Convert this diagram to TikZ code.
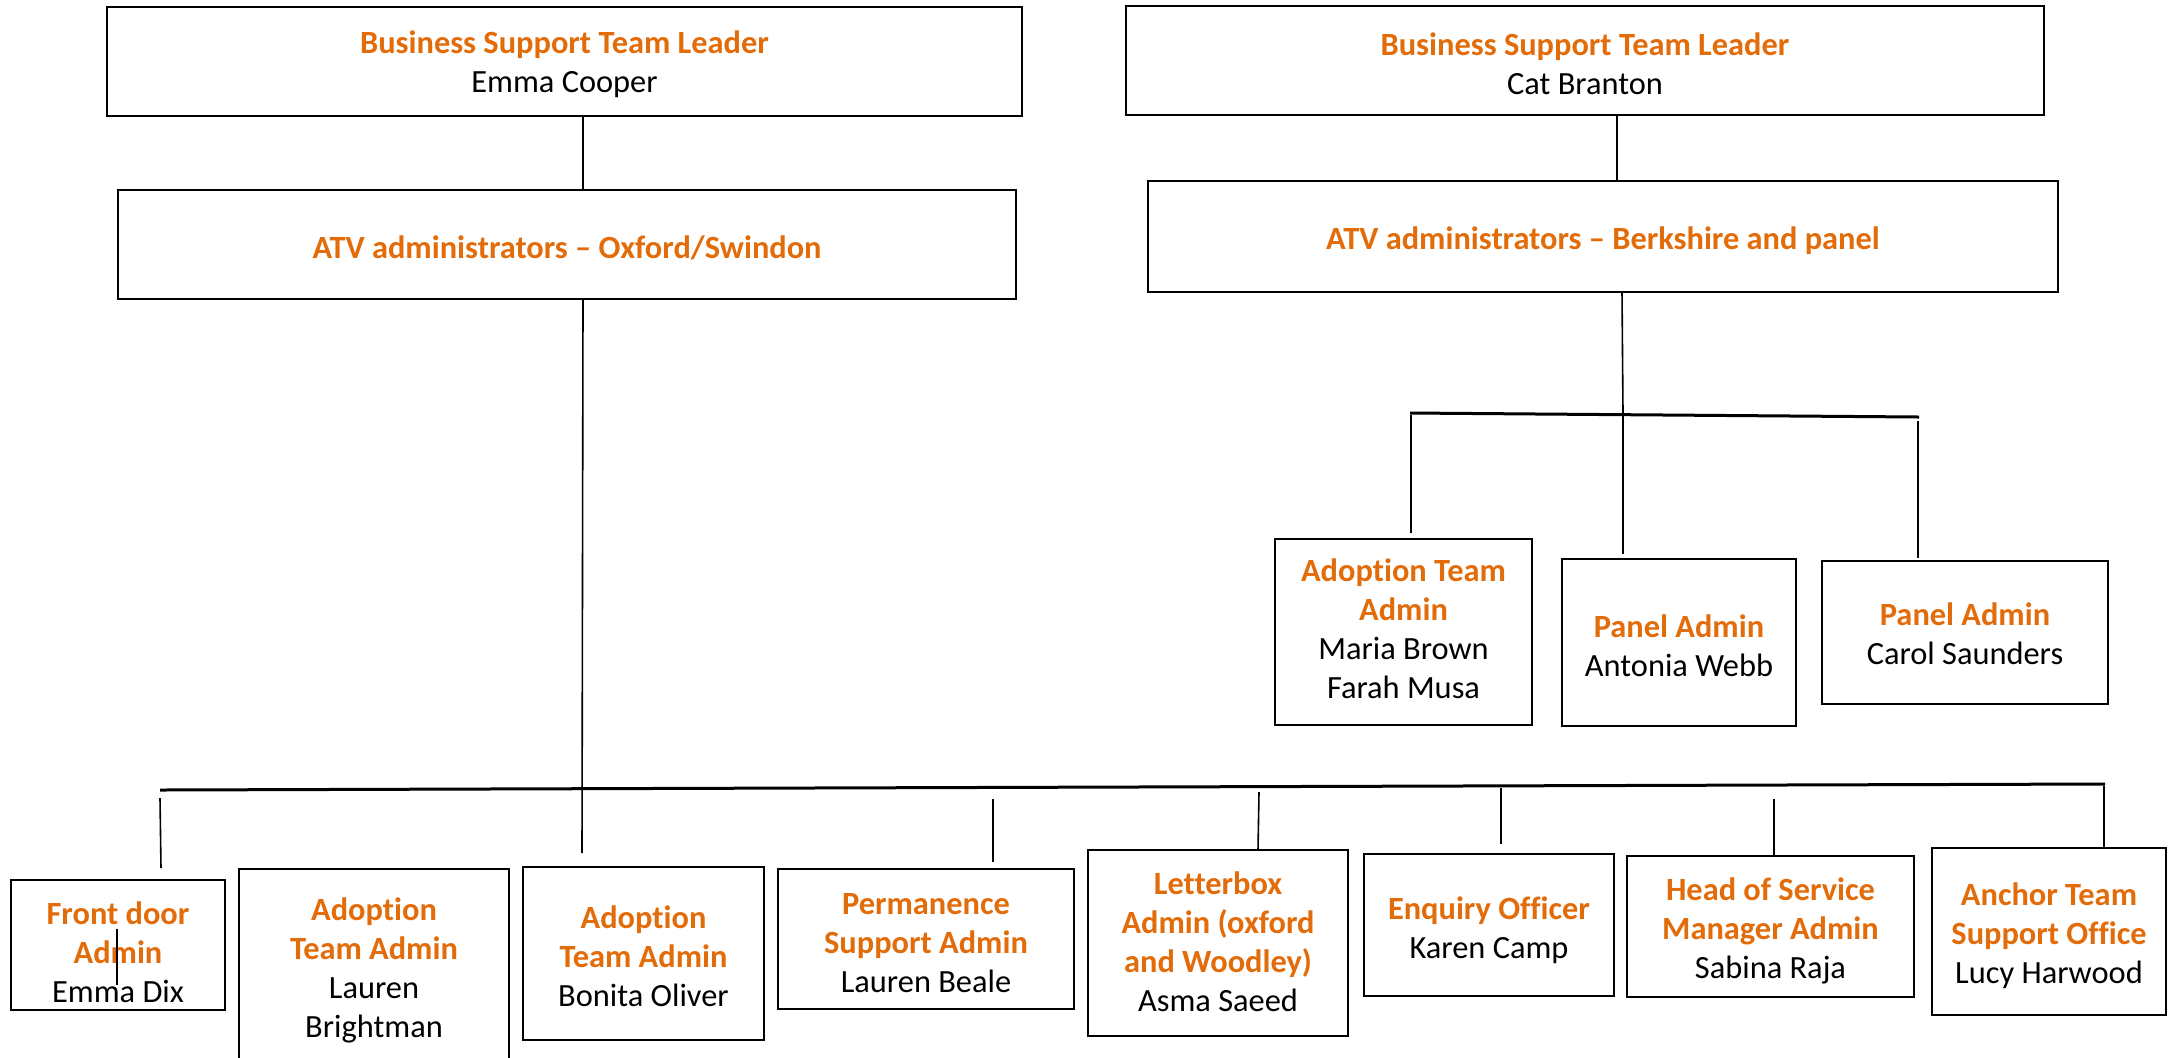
\documentclass[tikz,border=0pt]{standalone}
\usepackage{fontspec}
\setmainfont{Carlito}[Ligatures=NoCommon]
\definecolor{roleorange}{RGB}{227,108,10}
\tikzset{
  orgbox/.style={draw=black, line width=0.9pt, fill=white, inner sep=0pt},
  boxtext/.style={inner sep=0pt, align=center,
    font=\fontsize{16.2}{19.5}\selectfont},
  link/.style={line width=0.8pt},
  bus/.style={line width=1.5pt},
}
\newcommand\role[1]{{\color{roleorange}\bfseries #1}}
% \placebox{name}{left}{top}{right}{bottom}{text drop}{text}
\newcommand\placebox[7]{%
  \node[orgbox, minimum width={(#4-#2)*0.5pt}, minimum height={(#5-#3)*0.5pt}]
    (#1) at ({(#2+#4)/2},{(#3+#5)/2}) {};
  \node[boxtext] (#1-text) at ([yshift={-(#6)*0.5pt}]#1.center) {#7};}
\begin{document}
\begin{tikzpicture}[x=0.5pt,y=-0.5pt]
\useasboundingbox (0,0) rectangle (2172,1057);
\clip (0,0) rectangle (2172,1057);

% junction and end points of the connectors
\coordinate (a1) at (583,116);  \coordinate (a2) at (583,190);
\coordinate (a3) at (583,299);  \coordinate (a4) at (582,853);
\coordinate (busLl) at (160,790); \coordinate (busLr) at (2105,784);
\coordinate (d1t) at (160,798);  \coordinate (d1b) at (161,868);
\coordinate (d4t) at (993,799);  \coordinate (d4b) at (993,862);
\coordinate (d5t) at (1259,792); \coordinate (d5b) at (1258,850);
\coordinate (d6t) at (1501,788); \coordinate (d6b) at (1501,844);
\coordinate (d7t) at (1774,799); \coordinate (d7b) at (1774,856);
\coordinate (d8t) at (2104,786); \coordinate (d8b) at (2104,848);
\coordinate (s1) at (117,929);   \coordinate (s2) at (117,985);
\coordinate (c1) at (1617,115);  \coordinate (c2) at (1617,181);
\coordinate (c3) at (1622,293);  \coordinate (c4) at (1623,414);
\coordinate (busRl) at (1410,413); \coordinate (busRr) at (1919,417);
\coordinate (e1t) at (1411,415); \coordinate (e1b) at (1411,533);
\coordinate (e2t) at (1623,416); \coordinate (e2b) at (1623,554);
\coordinate (e3t) at (1918,421); \coordinate (e3b) at (1918,558);

% connectors
\draw[link] (a1) -- (a2);
\draw[link] (a3) -- (a4);
\draw[bus] (busLl) -- (busLr);
\draw[link] (d1t) -- (d1b);
\draw[link] (d4t) -- (d4b);
\draw[link] (d5t) -- (d5b);
\draw[link] (d6t) -- (d6b);
\draw[link] (d7t) -- (d7b);
\draw[link] (d8t) -- (d8b);
\draw[link] (c1) -- (c2);
\draw[link] (c3) -- (c4);
\draw[bus] (busRl) -- (busRr);
\draw[link] (e1t) -- (e1b);
\draw[link] (e2t) -- (e2b);
\draw[link] (e3t) -- (e3b);

% top of the chart
\placebox{lead1}{107}{7}{1022}{116}{3}{\role{Business Support Team Leader}\\Emma Cooper}
\placebox{atv1}{118}{190}{1016}{299}{3}{\role{ATV administrators – Oxford/Swindon}}
\placebox{lead2}{1126}{6}{2044}{115}{3}{\role{Business Support Team Leader}\\Cat Branton}
\placebox{atv2}{1148}{181}{2058}{292}{4}{\role{ATV administrators – Berkshire and panel}}

% Berkshire and panel team
\placebox{r1}{1275}{539}{1532}{725}{-3}{\role{Adoption Team}\\\role{Admin}\\Maria Brown\\Farah Musa}
\placebox{r2}{1562}{559}{1796}{726}{3}{\role{Panel Admin}\\Antonia Webb}
\placebox{r3}{1822}{561}{2108}{704}{1}{\role{Panel Admin}\\Carol Saunders}

% Oxford/Swindon team
\placebox{l1}{11}{880}{225}{1010}{7}{\role{Front door}\\\role{Admin}\\Emma Dix}
\placebox{l2}{239}{869}{509}{1063}{4}{\role{Adoption}\\\role{Team Admin}\\Lauren\\Brightman}
\placebox{l3}{523}{867}{764}{1040}{3}{\role{Adoption}\\\role{Team Admin}\\Bonita Oliver}
\placebox{l4}{778}{869}{1074}{1009}{4}{\role{Permanence}\\\role{Support Admin}\\Lauren Beale}
\placebox{l5}{1088}{850}{1348}{1036}{-1}{\role{Letterbox}\\\role{Admin (oxford}\\\role{and Woodley)}\\Asma Saeed}
\placebox{l6}{1364}{854}{1614}{996}{5}{\role{Enquiry Officer}\\Karen Camp}
\placebox{l7}{1627}{856}{1914}{997}{4}{\role{Head of Service}\\\role{Manager Admin}\\Sabina Raja}
\placebox{l8}{1932}{848}{2166}{1015}{4}{\role{Anchor Team}\\\role{Support Office}\\Lucy Harwood}

% short stray stroke inside the front door box
\draw[link] (s1) -- (s2);
\end{tikzpicture}
\end{document}
